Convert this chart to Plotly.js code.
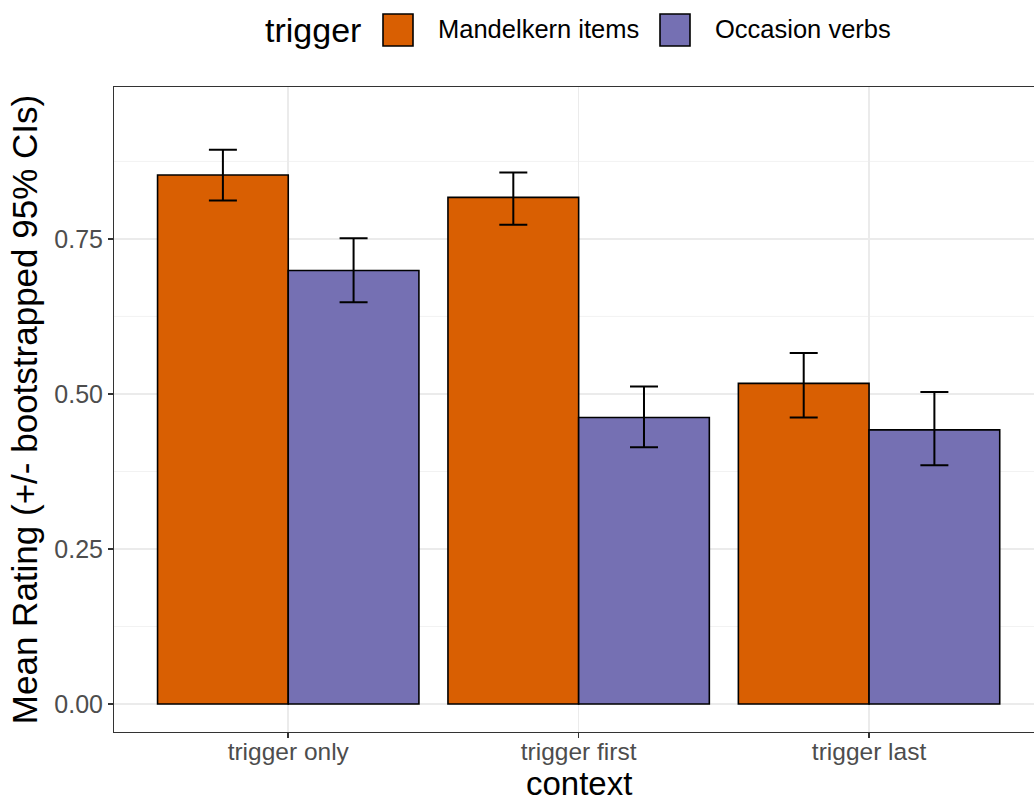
<!DOCTYPE html>
<html>
<head>
<meta charset="utf-8">
<script src="https://cdn.plot.ly/plotly-3.0.1.min.js"></script>
<style>html,body{margin:0;padding:0;background:#fff;}#chart{width:1034px;height:804px;}</style>
</head>
<body>
<div id="chart"></div>
<script>
const contexts = ["trigger only", "trigger first", "trigger last"];
const triggers = ["Mandelkern items", "Occasion verbs"];
const mandelkernMean = [0.853, 0.817, 0.517];
const mandelkernLow = [0.812, 0.773, 0.462];
const mandelkernHigh = [0.894, 0.857, 0.566];
const occasionMean = [0.699, 0.462, 0.442];
const occasionLow = [0.648, 0.414, 0.385];
const occasionHigh = [0.751, 0.512, 0.503];
const yTickVals = [0, 0.25, 0.5, 0.75];
const yTickText = ["0.00", "0.25", "0.50", "0.75"];
const colors = ["#D95F02", "#7570B3"];

function mk(name, mean, lo, hi, color) {
  return {
    type: "bar", name: name, x: contexts, y: mean,
    marker: {color: color, line: {color: "#000", width: 1.6}},
    error_y: {type: "data", symmetric: false,
      array: hi.map((h, i) => h - mean[i]),
      arrayminus: lo.map((l, i) => mean[i] - l),
      color: "#000", thickness: 2, width: 14},
    showlegend: false
  };
}
const data = [
  mk(triggers[0], mandelkernMean, mandelkernLow, mandelkernHigh, colors[0]),
  mk(triggers[1], occasionMean, occasionLow, occasionHigh, colors[1])
];

const L = 114, T = 87, B = 72, W = 1034, H = 804;
const pw = W - L, ph = H - T - B;
const px = v => (v - L) / pw;
const py = v => (H - B - v) / ph;

const minor = [0.125, 0.375, 0.625, 0.875];
const shapes = minor.map(v => ({type: "line", xref: "paper", yref: "y", x0: 0, x1: 1, y0: v, y1: v,
  line: {color: "#F2F2F2", width: 1}, layer: "below"}));
// legend swatches
shapes.push({type: "rect", xref: "paper", yref: "paper", x0: px(383), x1: px(413), y0: py(46), y1: py(14),
  fillcolor: colors[0], line: {color: "#000", width: 1.6}});
shapes.push({type: "rect", xref: "paper", yref: "paper", x0: px(660), x1: px(690), y0: py(46), y1: py(14),
  fillcolor: colors[1], line: {color: "#000", width: 1.6}});

const font = "Liberation Sans, Arial, sans-serif";
const annotations = [
  {text: "trigger", xref: "paper", yref: "paper", x: px(263), y: py(30), xanchor: "left", yanchor: "middle",
   showarrow: false, font: {family: font, size: 34, color: "#000"}},
  {text: triggers[0], xref: "paper", yref: "paper", x: px(436), y: py(29), xanchor: "left", yanchor: "middle",
   showarrow: false, font: {family: font, size: 25.5, color: "#000"}},
  {text: triggers[1], xref: "paper", yref: "paper", x: px(713), y: py(29), xanchor: "left", yanchor: "middle",
   showarrow: false, font: {family: font, size: 25.5, color: "#000"}},
  {text: "context", xref: "paper", yref: "paper", x: px(579), y: py(803), xanchor: "center", yanchor: "bottom",
   showarrow: false, borderpad: 0, font: {family: font, size: 33, color: "#000"}}
];

const layout = {
  width: W, height: H,
  margin: {l: L, r: 0, t: T, b: B, pad: 0},
  paper_bgcolor: "#fff", plot_bgcolor: "#fff",
  barmode: "group", bargap: 0.1, bargroupgap: 0,
  font: {family: font},
  showlegend: false,
  xaxis: {
    type: "category", range: [-0.6, 2.568],
    showgrid: true, gridcolor: "#EBEBEB", gridwidth: 1.5,
    showline: true, linecolor: "#333", linewidth: 1, mirror: true,
    ticks: "outside", ticklen: 5, tickcolor: "#333", tickwidth: 1.5,
    ticklabelstandoff: -7,
    tickfont: {family: font, size: 24.5, color: "#4D4D4D"},
    zeroline: false
  },
  yaxis: {
    range: [-0.0452, 0.995],
    tickvals: yTickVals, ticktext: yTickText,
    showgrid: true, gridcolor: "#EBEBEB", gridwidth: 1.5,
    showline: true, linecolor: "#333", linewidth: 1,
    ticks: "outside", ticklen: 5, tickcolor: "#333", tickwidth: 1.5,
    tickfont: {family: font, size: 25, color: "#4D4D4D"},
    title: {text: "Mean Rating (+/- bootstrapped 95% CIs)", font: {family: font, size: 35, color: "#000"}, standoff: 6},
    zeroline: false
  },
  shapes: shapes,
  annotations: annotations
};
Plotly.newPlot("chart", data, layout, {displayModeBar: false, staticPlot: true});
</script>
</body>
</html>
